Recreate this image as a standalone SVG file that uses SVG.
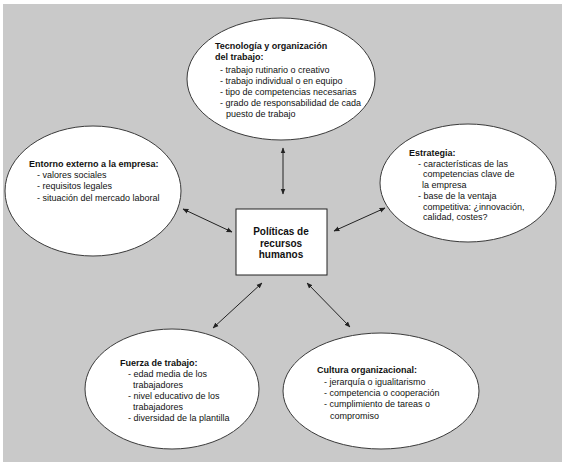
<svg xmlns="http://www.w3.org/2000/svg" width="564" height="468" viewBox="0 0 564 468">
<defs>
<style>
.el{fill:#fff;stroke:#3a3a3a;stroke-width:1}
.t{font-family:"Liberation Sans",Arial,sans-serif;font-size:9px;fill:#111}
.b{font-weight:bold}
.c{font-family:"Liberation Sans",Arial,sans-serif;font-size:10px;font-weight:bold;fill:#111;text-anchor:middle}
.ln{stroke:#222;stroke-width:1;fill:none;marker-start:url(#ah);marker-end:url(#ah)}
</style>
<marker id="ah" viewBox="0 0 10 10" refX="9" refY="5" markerWidth="6" markerHeight="6" orient="auto-start-reverse" markerUnits="userSpaceOnUse">
<path d="M0,1 L10,5 L0,9 z" fill="#222"/>
</marker>
</defs>
<rect x="0" y="0" width="564" height="468" fill="#fff"/>
<rect x="3" y="4" width="559" height="458" fill="#c9c9c9"/>

<g id="connectors">
<line class="ln" x1="283" y1="148" x2="283" y2="194"/>
<line class="ln" x1="183" y1="209" x2="232" y2="232"/>
<line class="ln" x1="385" y1="208" x2="334" y2="231"/>
<line class="ln" x1="262" y1="283" x2="213" y2="328"/>
<line class="ln" x1="307" y1="283" x2="350" y2="327"/>
</g>

<g id="tecnologia">
<ellipse class="el" cx="281" cy="79" rx="94" ry="61"/>
<text class="t b" x="215" y="49">Tecnología y organización</text>
<text class="t b" x="215" y="60">del trabajo:</text>
<text class="t" x="220" y="73">- trabajo rutinario o creativo</text>
<text class="t" x="220" y="84">- trabajo individual o en equipo</text>
<text class="t" x="220" y="95">- tipo de competencias necesarias</text>
<text class="t" x="220" y="106">- grado de responsabilidad de cada</text>
<text class="t" x="226" y="117">puesto de trabajo</text>
</g>

<g id="entorno">
<ellipse class="el" cx="93" cy="191" rx="88" ry="65"/>
<text class="t b" x="29" y="167">Entorno externo a la empresa:</text>
<text class="t" x="37" y="178">- valores sociales</text>
<text class="t" x="37" y="189">- requisitos legales</text>
<text class="t" x="37" y="201">- situación del mercado laboral</text>
</g>

<g id="estrategia">
<ellipse class="el" cx="468" cy="183" rx="88" ry="59"/>
<text class="t b" x="409" y="156">Estrategia:</text>
<text class="t" x="418" y="167">- características de las</text>
<text class="t" x="423" y="177">competencias clave de</text>
<text class="t" x="422" y="188">la empresa</text>
<text class="t" x="418" y="199">- base de la ventaja</text>
<text class="t" x="423" y="210">competitiva: ¿innovación,</text>
<text class="t" x="423" y="220">calidad, costes?</text>
</g>

<g id="politicas">
<rect x="236" y="209" width="91" height="66" fill="#fff" stroke="#222" stroke-width="1"/>
<text class="c" x="281" y="235">Políticas de</text>
<text class="c" x="281" y="247">recursos</text>
<text class="c" x="281" y="258">humanos</text>
</g>

<g id="fuerza">
<ellipse class="el" cx="172" cy="389" rx="87" ry="60"/>
<text class="t b" x="120" y="366">Fuerza de trabajo:</text>
<text class="t" x="128" y="377">- edad media de los</text>
<text class="t" x="133" y="388">trabajadores</text>
<text class="t" x="128" y="399">- nivel educativo de los</text>
<text class="t" x="133" y="410">trabajadores</text>
<text class="t" x="128" y="421">- diversidad de la plantilla</text>
</g>

<g id="cultura">
<ellipse class="el" cx="381" cy="391" rx="98" ry="58"/>
<text class="t b" x="317" y="373">Cultura organizacional:</text>
<text class="t" x="324" y="385">- jerarquía o igualitarismo</text>
<text class="t" x="324" y="396">- competencia o cooperación</text>
<text class="t" x="324" y="407">- cumplimiento de tareas o</text>
<text class="t" x="330" y="419">compromiso</text>
</g>
</svg>
